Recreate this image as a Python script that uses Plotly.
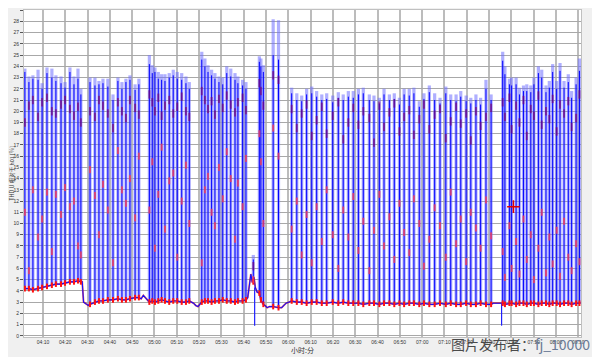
import plotly.graph_objects as go
from datetime import datetime, timedelta

# ---------------- data (minutes after 04:00, values in %) ----------------
a_t = [1.9, 3.7, 5.5, 7.8, 9.6, 11.8, 14.0, 15.8, 18.1, 19.9, 22.1, 23.9, 25.7, 27.0]
a_peak = [23.8, 23.1, 23.2, 23.7, 22.5, 23.9, 23.8, 23.2, 23.1, 22.6, 23.9, 23.1, 23.8, 22.0]
a_dark = [23.5, 22.6, 22.9, 22.8, 22.0, 23.4, 23.0, 22.7, 22.5, 22.1, 23.5, 22.4, 22.9, 21.5]
a_base = [4.2, 4.2, 4.1, 4.2, 4.3, 4.4, 4.5, 4.6, 4.6, 4.7, 4.8, 4.8, 4.9, 4.8]
a_rhi = [19.0, 20.5, 21.0, 19.5, 20.8, 21.2, 20.0, 19.8, 20.6, 21.0, 20.2, 19.6, 20.4, 19.0]
a_rlo = [11.0, 5.8, 13.0, 8.8, 10.4, 12.8, 7.5, 12.6, 10.8, 13.2, 11.5, 12.0, 8.0, 7.2]

b_t = [31.1, 33.3, 35.1, 36.9, 39.1, 41.4, 43.6, 45.4, 47.2, 49.0, 51.3, 53.0]
b_peak = [23.0, 23.0, 22.7, 22.9, 22.9, 21.5, 23.0, 22.6, 22.9, 23.2, 22.4, 22.9]
b_dark = [22.6, 22.3, 22.4, 22.5, 22.2, 21.0, 22.7, 22.0, 22.6, 22.8, 21.9, 22.4]
b_base = [2.8, 3.0, 3.1, 3.1, 3.2, 3.2, 3.3, 3.2, 3.2, 3.3, 3.4, 3.4]
b_rhi = [20.0, 19.5, 21.0, 20.5, 19.8, 18.5, 20.8, 20.0, 19.4, 21.0, 20.3, 19.7]
b_rlo = [14.8, 12.5, 9.0, 13.5, 11.2, 6.5, 16.5, 13.0, 11.8, 14.0, 10.5, 16.0]

c_t = [57.7, 59.0, 60.2, 61.7, 63.2, 64.7, 66.6, 68.4, 70.2, 72.2, 74.1, 75.6]
c_peak = [25.0, 24.1, 23.9, 23.5, 23.3, 23.3, 23.4, 23.7, 23.5, 23.4, 23.1, 22.6]
c_dark = [24.2, 23.4, 23.5, 22.9, 22.8, 22.7, 23.0, 23.2, 22.9, 22.8, 22.5, 22.0]
c_base = [3.0, 3.1, 3.0, 3.1, 3.2, 3.1, 3.0, 3.1, 3.1, 3.0, 3.0, 3.1]
c_rhi = [21.5, 20.8, 20.0, 21.2, 19.6, 20.5, 21.0, 19.8, 20.4, 21.3, 20.0, 19.5]
c_rlo = [11.2, 15.5, 7.8, 12.6, 16.8, 9.5, 13.8, 14.5, 7.0, 12.0, 15.2, 10.0]

d_t = [81.2, 82.6, 84.0, 85.6, 87.1, 88.9, 90.6, 92.4, 94.2, 96.1, 97.4, 99.5, 101.0]
d_peak = [25.3, 24.7, 24.1, 23.7, 23.4, 23.1, 23.0, 24.0, 23.8, 23.4, 23.1, 22.8, 22.6]
d_dark = [24.6, 24.0, 23.5, 23.2, 22.9, 22.6, 22.4, 23.4, 23.1, 22.8, 22.5, 22.3, 22.0]
d_base = [3.0, 3.1, 3.1, 3.0, 3.1, 3.1, 3.2, 3.1, 3.1, 3.0, 3.1, 3.1, 3.2]
d_rhi = [21.8, 21.0, 20.2, 20.9, 19.7, 21.1, 20.3, 21.4, 20.6, 19.9, 20.8, 21.2, 20.1]
d_rlo = [6.5, 13.0, 14.2, 11.0, 9.8, 15.0, 12.2, 16.4, 14.0, 8.6, 13.6, 11.5, 15.8]

e_t = [104.3, 107.0, 107.7, 108.8, 113.2, 115.6]
e_peak = [7.2, 24.9, 24.7, 24.1, 28.2, 28.1]
e_dark = [6.8, 24.4, 24.0, 23.5, 25.0, 24.6]
e_base = [4.8, 3.8, 3.2, 2.8, 2.6, 2.5]
e_rhi = [6.2, 22.5, 21.8, 20.5, 23.2, 22.8]
e_rlo = [5.0, 18.0, 15.5, 10.0, 18.5, 16.0]

g_t = [121.5, 123.8, 126.0, 128.2, 130.5, 132.7, 135.0, 137.2, 139.9, 142.4,
       144.6, 146.9, 149.1, 151.4, 153.6, 156.3, 158.4, 160.8, 162.9, 165.3,
       167.5, 169.8, 171.9, 174.2, 176.3, 178.7, 180.8, 183.2, 185.6, 188.0,
       190.6, 192.8, 195.2, 197.3, 199.7, 201.8, 204.1, 206.2, 208.6, 210.9]
g_peak = [22.1, 21.6, 21.4, 22.0, 22.2, 21.8, 21.5, 21.6, 21.4, 21.7,
          21.5, 21.8, 21.8, 22.0, 22.1, 21.5, 21.4, 21.2, 22.0, 21.5,
          21.6, 21.2, 22.0, 22.0, 22.1, 20.9, 21.6, 22.3, 21.6, 21.2,
          22.2, 21.5, 21.5, 21.8, 21.4, 21.2, 21.5, 21.2, 22.8, 21.5]
g_dark = [21.6, 21.0, 20.9, 21.5, 21.6, 21.3, 21.0, 21.1, 20.8, 21.2,
          21.0, 21.3, 21.2, 21.5, 21.6, 21.0, 20.9, 20.7, 21.5, 21.0,
          21.1, 20.6, 21.5, 21.4, 21.6, 20.4, 21.1, 21.7, 21.0, 20.7,
          21.6, 21.0, 20.9, 21.3, 20.9, 20.7, 21.0, 20.6, 22.0, 21.0]
g_base = [3.1, 3.0, 3.0, 2.9, 3.0, 3.0, 2.9, 2.9, 3.0, 2.9,
          3.0, 2.9, 2.9, 2.9, 2.8, 2.9, 2.9, 2.8, 2.9, 2.9,
          2.8, 2.9, 2.8, 2.9, 2.9, 2.8, 2.9, 2.8, 2.8, 2.9,
          2.8, 2.9, 2.8, 2.8, 2.9, 2.8, 2.8, 2.9, 2.8, 2.8]
g_rhi = [20.2, 18.5, 19.8, 20.6, 17.8, 19.2, 20.4, 18.0, 19.6, 20.8,
         17.5, 19.0, 20.3, 18.8, 20.0, 19.4, 17.2, 20.5, 18.6, 19.9,
         20.7, 18.2, 19.5, 20.1, 17.9, 19.3, 20.6, 18.4, 19.7, 20.2,
         17.6, 19.1, 20.4, 18.9, 19.8, 17.4, 20.0, 18.7, 19.5, 20.3]
g_rlo = [9.5, 12.0, 7.2, 10.8, 6.5, 11.5, 8.4, 13.0, 9.0, 6.0,
         11.2, 8.8, 12.4, 7.6, 10.2, 5.8, 9.4, 12.6, 8.0, 10.6,
         6.8, 11.8, 9.2, 7.4, 12.2, 10.0, 6.2, 8.6, 11.4, 9.8,
         7.0, 12.8, 8.2, 10.4, 6.6, 11.0, 9.6, 7.8, 12.1, 8.9]

h_t = [216.1, 217.1, 219.1, 220.1, 222.1, 223.6, 225.4, 226.9, 228.7, 230.1, 232.1,
       233.6, 235.5, 237.0, 238.5, 240.3, 241.8, 243.6, 245.5, 247.0, 249.0, 250.5]
h_peak = [25.3, 24.0, 22.9, 23.0, 23.0, 22.1, 22.3, 22.4, 22.3, 23.0, 24.0,
          23.7, 22.3, 22.7, 24.2, 22.7, 24.3, 22.7, 23.3, 21.8, 23.0, 24.7]
h_dark = [24.5, 23.3, 22.4, 22.3, 22.4, 21.5, 21.8, 21.8, 21.7, 22.4, 23.4,
          23.0, 21.7, 22.1, 23.5, 22.0, 23.6, 22.1, 22.6, 21.2, 22.4, 23.6]
h_base = [2.9, 2.8, 2.9, 2.9, 2.8, 2.9, 2.9, 2.8, 2.9, 2.9, 2.8,
          2.9, 2.9, 2.8, 2.9, 2.9, 2.8, 2.9, 2.9, 2.8, 2.9, 2.9]
h_rhi = [20.8, 19.5, 21.2, 18.4, 20.5, 19.0, 21.0, 17.8, 20.2, 19.6, 21.4,
         18.8, 20.0, 19.3, 21.1, 18.2, 20.6, 19.8, 20.9, 18.6, 19.4, 21.5]
h_rlo = [7.5, 5.2, 9.8, 6.0, 8.4, 5.5, 10.4, 6.8, 9.0, 5.0, 7.8,
         11.0, 5.6, 8.8, 6.4, 9.4, 5.3, 10.2, 7.0, 5.8, 8.2, 6.6]

# baseline between spike groups
gap_t = [1.5, 27.6, 28.2, 29.5, 30.3, 54.0, 55.0, 56.0, 57.0, 76.5, 77.5, 78.5, 79.5, 80.3,
         101.8, 102.5, 103.2, 103.8, 104.6, 105.2, 106.0, 109.5, 110.5, 111.5, 112.3,
         117.0, 118.0, 119.0, 120.3, 211.8, 212.7, 214.0, 215.3, 251.0]
gap_v = [4.2, 4.8, 3.0, 2.8, 2.7, 3.3, 3.6, 3.4, 3.2, 3.0, 2.9, 2.7, 2.6, 2.8,
         3.4, 4.5, 5.5, 4.8, 5.2, 4.3, 3.9, 2.7, 2.5, 2.6, 2.6,
         2.5, 2.7, 2.9, 3.0, 2.9, 2.9, 2.85, 2.85, 2.9]

# short drops to the minimum
dip_t = [104.9, 215.6]
dip_top = [4.3, 2.85]
dip_low = [0.9, 0.9]

cursor_t = [220.9]
cursor_v = [11.5]

tick_labels = ["04:10", "04:20", "04:30", "04:40", "04:50", "05:00", "05:10", "05:20",
               "05:30", "05:40", "05:50", "06:00", "06:10", "06:20", "06:30", "06:40",
               "06:50", "07:00", "07:10", "07:20", "07:30", "07:40", "07:50", "08:00", "08:10"]

# ---------------- assemble ----------------
spike_t = a_t + b_t + c_t + d_t + e_t + g_t + h_t
spike_peak = a_peak + b_peak + c_peak + d_peak + e_peak + g_peak + h_peak
spike_dark = a_dark + b_dark + c_dark + d_dark + e_dark + g_dark + h_dark
spike_base = a_base + b_base + c_base + d_base + e_base + g_base + h_base
red_hi = a_rhi + b_rhi + c_rhi + d_rhi + e_rhi + g_rhi + h_rhi
red_lo = a_rlo + b_rlo + c_rlo + d_rlo + e_rlo + g_rlo + h_rlo

T0 = datetime(2024, 1, 1, 4, 0, 0)


def tt(m):
    return T0 + timedelta(minutes=m)


def segs(ts, lo, hi):
    xs, ys = [], []
    for t, a, b in zip(ts, lo, hi):
        xs += [tt(t), tt(t), None]
        ys += [a, b, None]
    return xs, ys


fig = go.Figure()

lx, ly = segs(spike_t, spike_base, spike_peak)
fig.add_trace(go.Scatter(x=lx, y=ly, mode="lines", hoverinfo="skip",
                         line=dict(color="rgba(110,110,255,0.55)", width=3.2)))
dx, dy = segs(spike_t, spike_base, spike_dark)
fig.add_trace(go.Scatter(x=dx, y=dy, mode="lines", hoverinfo="skip",
                         line=dict(color="#0000ff", width=1.0)))

bl = sorted(list(zip(spike_t, spike_base)) + list(zip(gap_t, gap_v)))
bx = [tt(p[0]) for p in bl]
by = [p[1] for p in bl]
fig.add_trace(go.Scatter(x=bx, y=by, mode="lines", hoverinfo="skip",
                         line=dict(color="rgba(255,0,0,0.65)", width=1.8)))
fig.add_trace(go.Scatter(x=bx, y=by, mode="lines", hoverinfo="skip",
                         line=dict(color="#1010ff", width=1.1)))

px_, py_ = segs(dip_t, dip_top, dip_low)
fig.add_trace(go.Scatter(x=px_, y=py_, mode="lines", hoverinfo="skip",
                         line=dict(color="#2020ff", width=1.2)))

st = [tt(t) for t in spike_t]
fig.add_trace(go.Scatter(x=st, y=spike_base, mode="markers", hoverinfo="skip",
                         marker=dict(symbol="line-ns", size=4,
                                     line=dict(color="#ff1010", width=2))))
fig.add_trace(go.Scatter(x=st, y=red_hi, mode="markers", hoverinfo="skip",
                         marker=dict(symbol="line-ns", size=6,
                                     line=dict(color="rgba(130,0,100,0.6)", width=2))))
fig.add_trace(go.Scatter(x=st, y=red_lo, mode="markers", hoverinfo="skip",
                         marker=dict(symbol="line-ns", size=5,
                                     line=dict(color="rgba(255,60,80,0.75)", width=2))))
fig.add_trace(go.Scatter(x=[tt(t) for t in cursor_t], y=cursor_v, mode="markers", hoverinfo="skip",
                         marker=dict(symbol="cross-thin", size=9,
                                     line=dict(color="#e00000", width=1.5))))

tick_vals = [datetime(2024, 1, 1, int(s[:2]), int(s[3:])) for s in tick_labels]

fig.update_layout(
    width=592, height=349,
    margin=dict(l=16, r=19, t=2, b=20),
    paper_bgcolor="#f0f0f0", plot_bgcolor="#ffffff",
    showlegend=False,
    font=dict(family="Liberation Sans, Arial, sans-serif", color="#333333"),
    xaxis=dict(
        type="date",
        range=[tt(1.5), tt(251.2)],
        tickvals=tick_vals, ticktext=tick_labels,
        tickfont=dict(size=5, color="#333333"),
        showgrid=True, gridcolor="#bcbcbc", gridwidth=2,
        zeroline=False, ticks="", showline=True, linecolor="#c0c0c0", mirror=True,
        title=dict(text="小时:分", font=dict(size=7, color="#333333",
                                          family="Noto Sans CJK SC"), standoff=1),
    ),
    yaxis=dict(
        range=[-0.11, 29.02],
        tick0=0, dtick=1,
        tickfont=dict(size=5, color="#333333"),
        showgrid=True, gridcolor="#a8a8a8", gridwidth=1,
        zeroline=False, ticks="outside", ticklen=3, tickcolor="#555555",
        showline=True, linecolor="#c0c0c0", mirror=True,
        title=dict(text="THD U 相对于 h01 [%]", font=dict(size=5.5, color="#333333",
                                                      family="Noto Sans CJK SC"), standoff=1),
    ),
    annotations=[dict(
        text="<span style='color:#4a4a4a'>图片发布者：</span><span style='color:#6a7a96'>fj_10000</span>",
        xref="paper", yref="paper", x=1.0197, y=-0.022, xanchor="right", yanchor="middle",
        showarrow=False, font=dict(size=14, family="Noto Sans CJK SC"),
    )],
)

fig.write_html("out.html")
